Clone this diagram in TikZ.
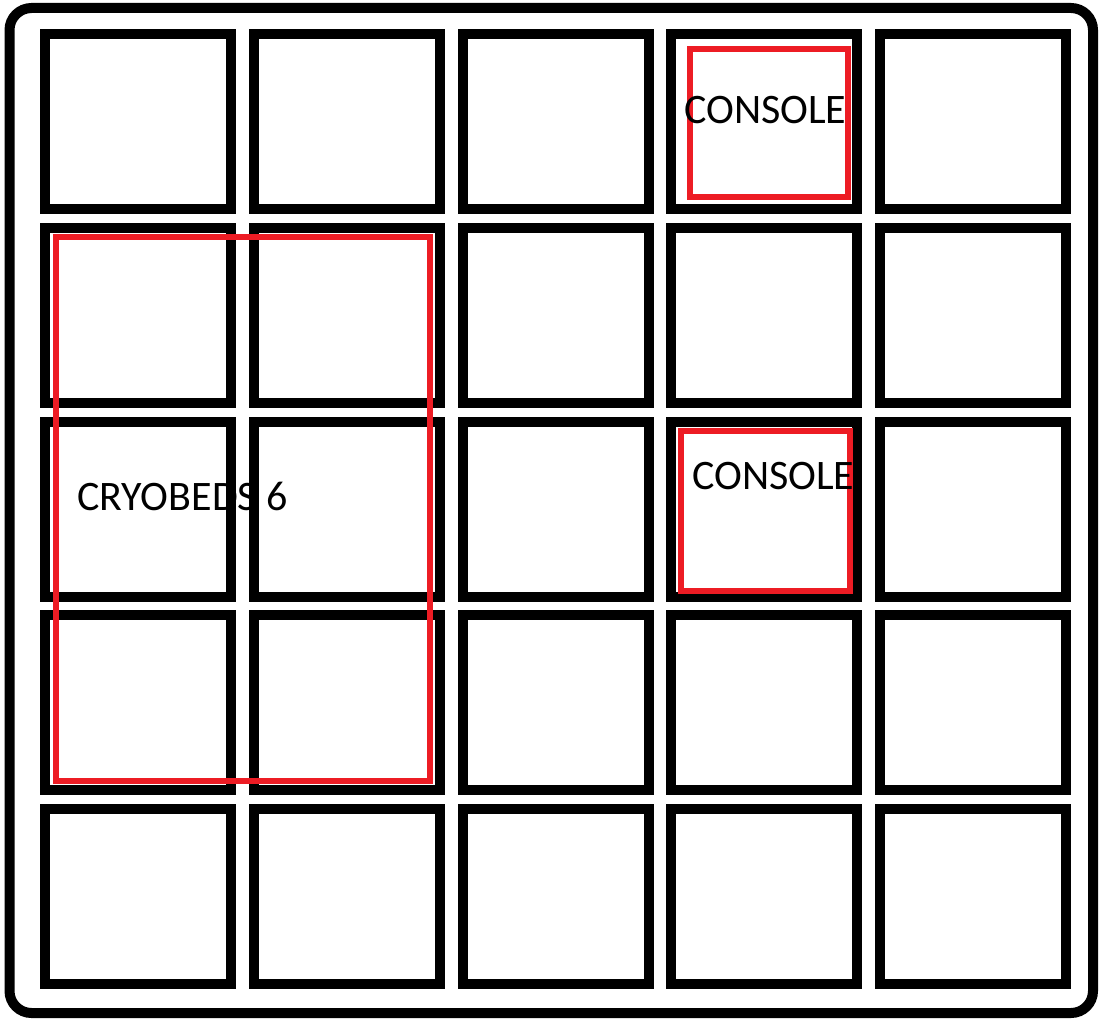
\documentclass[tikz,border=0pt]{standalone}
\usepackage{fontspec}
\setmainfont{Carlito}
\usepackage{tikz}

\definecolor{paintred}{HTML}{ED1C24}

\begin{document}
\begin{tikzpicture}[x=1pt,y=-1pt,
    cell/.style={draw=black,line width=10pt,minimum width=186pt,minimum height=175pt,inner sep=0pt},
    redbox/.style={draw=paintred,line width=6pt},
    roomtext/.style={anchor=base west,inner sep=0pt,font=\fontsize{42}{50}\selectfont}]
    \newcommand{\pitchx}{208.75}
    \newcommand{\pitchy}{193.75}

    \useasboundingbox (0,0) rectangle (1099,1022);
    \draw [line width=10pt, rounded corners=22pt] (9.5,8) rectangle (1093,1013);

    % 5x5 floor grid
    \foreach \r in {0,...,4}
      \foreach \c in {0,...,4}
        \node[cell] (cell-\r-\c) at (138+\c*\pitchx,121.5+\r*\pitchy) {};

    \draw [redbox] (56,236.5) rectangle (429.5,781);
    \draw [redbox] (689.5,49.5) rectangle (847.5,197);
    \draw [redbox] (681,430.5) rectangle (850,590.5);

    \node[roomtext] (cryo) at (77,510) {CRYOBEDS 6};
    \node[roomtext] (consoleA) at (684,124) {CONSOLE};
    \node[roomtext] (consoleB) at (692,489) {CONSOLE};
\end{tikzpicture}
\end{document}
